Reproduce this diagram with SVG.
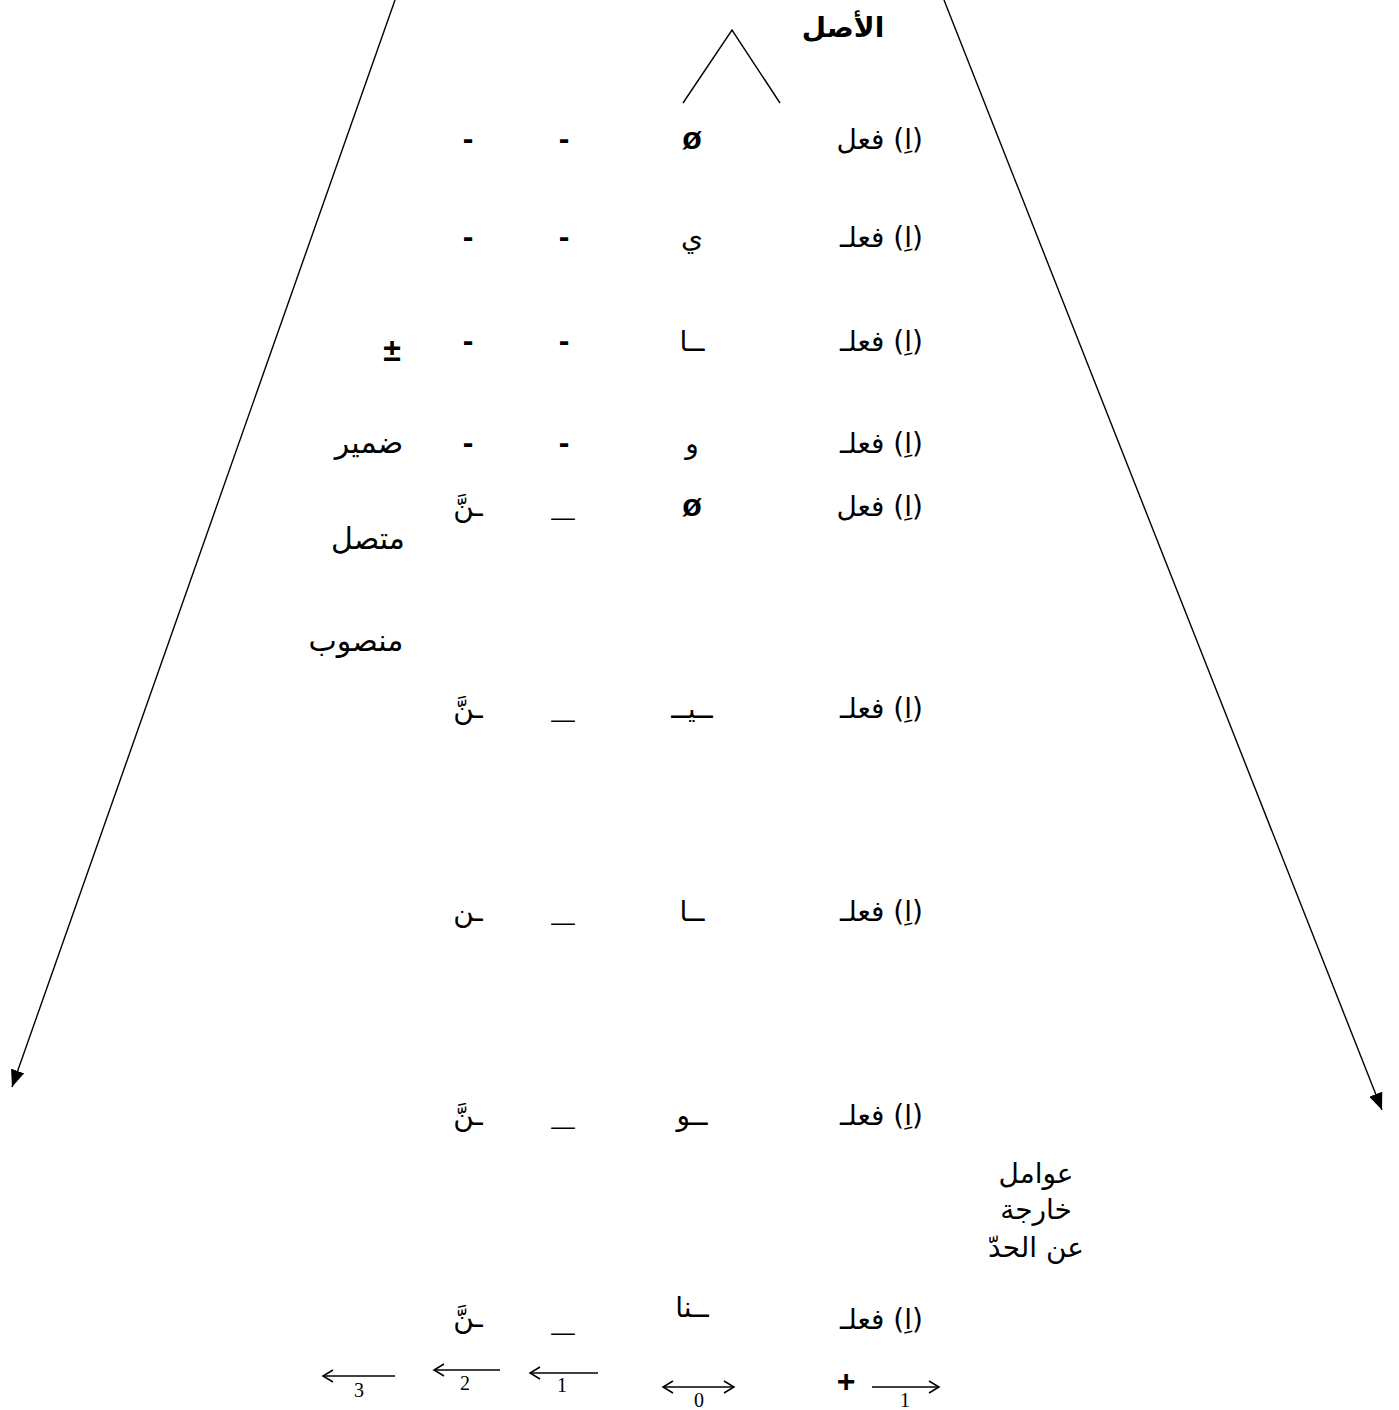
<svg xmlns="http://www.w3.org/2000/svg" width="1399" height="1410" viewBox="0 0 1399 1410">
<style>
.ar{font-family:"DejaVu Sans","Noto Sans",sans-serif;font-size:28px;fill:#000;direction:rtl;unicode-bidi:embed}
.ar2{font-size:30px}
.lat{font-family:"Liberation Sans",Arial,sans-serif;font-weight:bold;font-size:32px;fill:#000}
.us{font-family:"Liberation Sans",Arial,sans-serif;font-weight:bold;font-size:42px;fill:#000}
.num{font-family:"Liberation Serif","Times New Roman",serif;font-size:20px;fill:#000}
.ln{stroke:#000;stroke-width:1.4;fill:none}
.sm{stroke:#000;stroke-width:1.5;fill:none}
</style>
<defs>
<marker id="ah" markerUnits="userSpaceOnUse" markerWidth="18" markerHeight="14" refX="17" refY="7" orient="auto">
<path d="M0,0 L17,7 L0,14 z" fill="#000"/>
</marker>
</defs>
<rect width="1399" height="1410" fill="#fff"/>
<g id="connectors">
<line class="ln" x1="395" y1="0" x2="12" y2="1087" marker-end="url(#ah)"/>
<line class="ln" x1="944" y1="0" x2="1382" y2="1110" marker-end="url(#ah)"/>
<polyline class="ln" points="683,103 732,30 780,103"/>
</g>
<g id="title"><text class="ar" x="843" y="37" text-anchor="middle" font-weight="bold" font-size="27">الأصل</text></g>
<g id="row1">
<text class="ar" x="923" y="149" text-anchor="start">(اِ) فعل</text>
<text class="lat" x="692" y="149" text-anchor="middle">ø</text>
<text class="lat" x="564" y="149" text-anchor="middle">-</text>
<text class="lat" x="468" y="149" text-anchor="middle">-</text>
</g>
<g id="row2">
<text class="ar" x="923" y="247" text-anchor="start">(اِ) فعلـ</text>
<text class="ar" x="692" y="247" text-anchor="middle">ي</text>
<text class="lat" x="564" y="247" text-anchor="middle">-</text>
<text class="lat" x="468" y="247" text-anchor="middle">-</text>
</g>
<g id="row3">
<text class="ar" x="923" y="351" text-anchor="start">(اِ) فعلـ</text>
<text class="ar" x="692" y="351" text-anchor="middle">ــا</text>
<text class="lat" x="564" y="351" text-anchor="middle">-</text>
<text class="lat" x="468" y="351" text-anchor="middle">-</text>
<text class="lat" x="392" y="361" text-anchor="middle">±</text>
</g>
<g id="row4">
<text class="ar" x="923" y="453" text-anchor="start">(اِ) فعلـ</text>
<text class="ar" x="692" y="453" text-anchor="middle">و</text>
<text class="lat" x="564" y="453" text-anchor="middle">-</text>
<text class="lat" x="468" y="453" text-anchor="middle">-</text>
<text class="ar ar2" x="369" y="453" text-anchor="middle">ضمير</text>
</g>
<g id="row5">
<text class="ar" x="923" y="516" text-anchor="start">(اِ) فعل</text>
<text class="lat" x="692" y="516" text-anchor="middle">ø</text>
<text class="us" x="563" y="515" text-anchor="middle" textLength="23" lengthAdjust="spacingAndGlyphs">_</text>
<text class="ar" x="468" y="516" text-anchor="middle">ـنَّ</text>
<text class="ar ar2" x="368" y="549" text-anchor="middle">متصل</text>
<text class="ar ar2" x="356" y="651" text-anchor="middle">منصوب</text>
</g>
<g id="row6">
<text class="ar" x="923" y="718" text-anchor="start">(اِ) فعلـ</text>
<text class="ar" x="692" y="718" text-anchor="middle">ــيــ</text>
<text class="us" x="563" y="717" text-anchor="middle" textLength="23" lengthAdjust="spacingAndGlyphs">_</text>
<text class="ar" x="468" y="718" text-anchor="middle">ـنَّ</text>
</g>
<g id="row7">
<text class="ar" x="923" y="921" text-anchor="start">(اِ) فعلـ</text>
<text class="ar" x="692" y="921" text-anchor="middle">ــا</text>
<text class="us" x="563" y="920" text-anchor="middle" textLength="23" lengthAdjust="spacingAndGlyphs">_</text>
<text class="ar" x="468" y="921" text-anchor="middle">ـن</text>
</g>
<g id="row8">
<text class="ar" x="923" y="1125" text-anchor="start">(اِ) فعلـ</text>
<text class="ar" x="692" y="1125" text-anchor="middle">ــو</text>
<text class="us" x="563" y="1124" text-anchor="middle" textLength="23" lengthAdjust="spacingAndGlyphs">_</text>
<text class="ar" x="468" y="1125" text-anchor="middle">ـنَّ</text>
</g>
<g id="external">
<text class="ar" x="1036" y="1183" text-anchor="middle">عوامل</text>
<text class="ar" x="1036" y="1219" text-anchor="middle">خارجة</text>
<text class="ar" x="1036" y="1257" text-anchor="middle">عن الحدّ</text>
</g>
<g id="row9">
<text class="ar" x="923" y="1329" text-anchor="start">(اِ) فعلـ</text>
<text class="ar" x="692" y="1317" text-anchor="middle">ــنا</text>
<text class="us" x="563" y="1330" text-anchor="middle" textLength="23" lengthAdjust="spacingAndGlyphs">_</text>
<text class="ar" x="468" y="1327" text-anchor="middle">ـنَّ</text>
</g>
<g id="scale">
<line class="sm" x1="323" y1="1376" x2="395" y2="1376"/><polyline class="sm" points="333,1370 323,1376 333,1382"/>
<text class="num" x="359" y="1397" text-anchor="middle">3</text>
<line class="sm" x1="434" y1="1370" x2="500" y2="1370"/><polyline class="sm" points="444,1364 434,1370 444,1376"/>
<text class="num" x="465" y="1390" text-anchor="middle">2</text>
<line class="sm" x1="530" y1="1373" x2="598" y2="1373"/><polyline class="sm" points="540,1367 530,1373 540,1379"/>
<text class="num" x="562" y="1392" text-anchor="middle">1</text>
<line class="sm" x1="663" y1="1387" x2="734" y2="1387"/><polyline class="sm" points="673,1381 663,1387 673,1393"/><polyline class="sm" points="724,1381 734,1387 724,1393"/>
<text class="num" x="699" y="1407" text-anchor="middle">0</text>
<text class="lat" x="846" y="1392" text-anchor="middle" font-size="26">+</text>
<line class="sm" x1="872" y1="1387" x2="939" y2="1387"/><polyline class="sm" points="929,1381 939,1387 929,1393"/>
<text class="num" x="905" y="1407" text-anchor="middle">1</text>
</g>
</svg>
